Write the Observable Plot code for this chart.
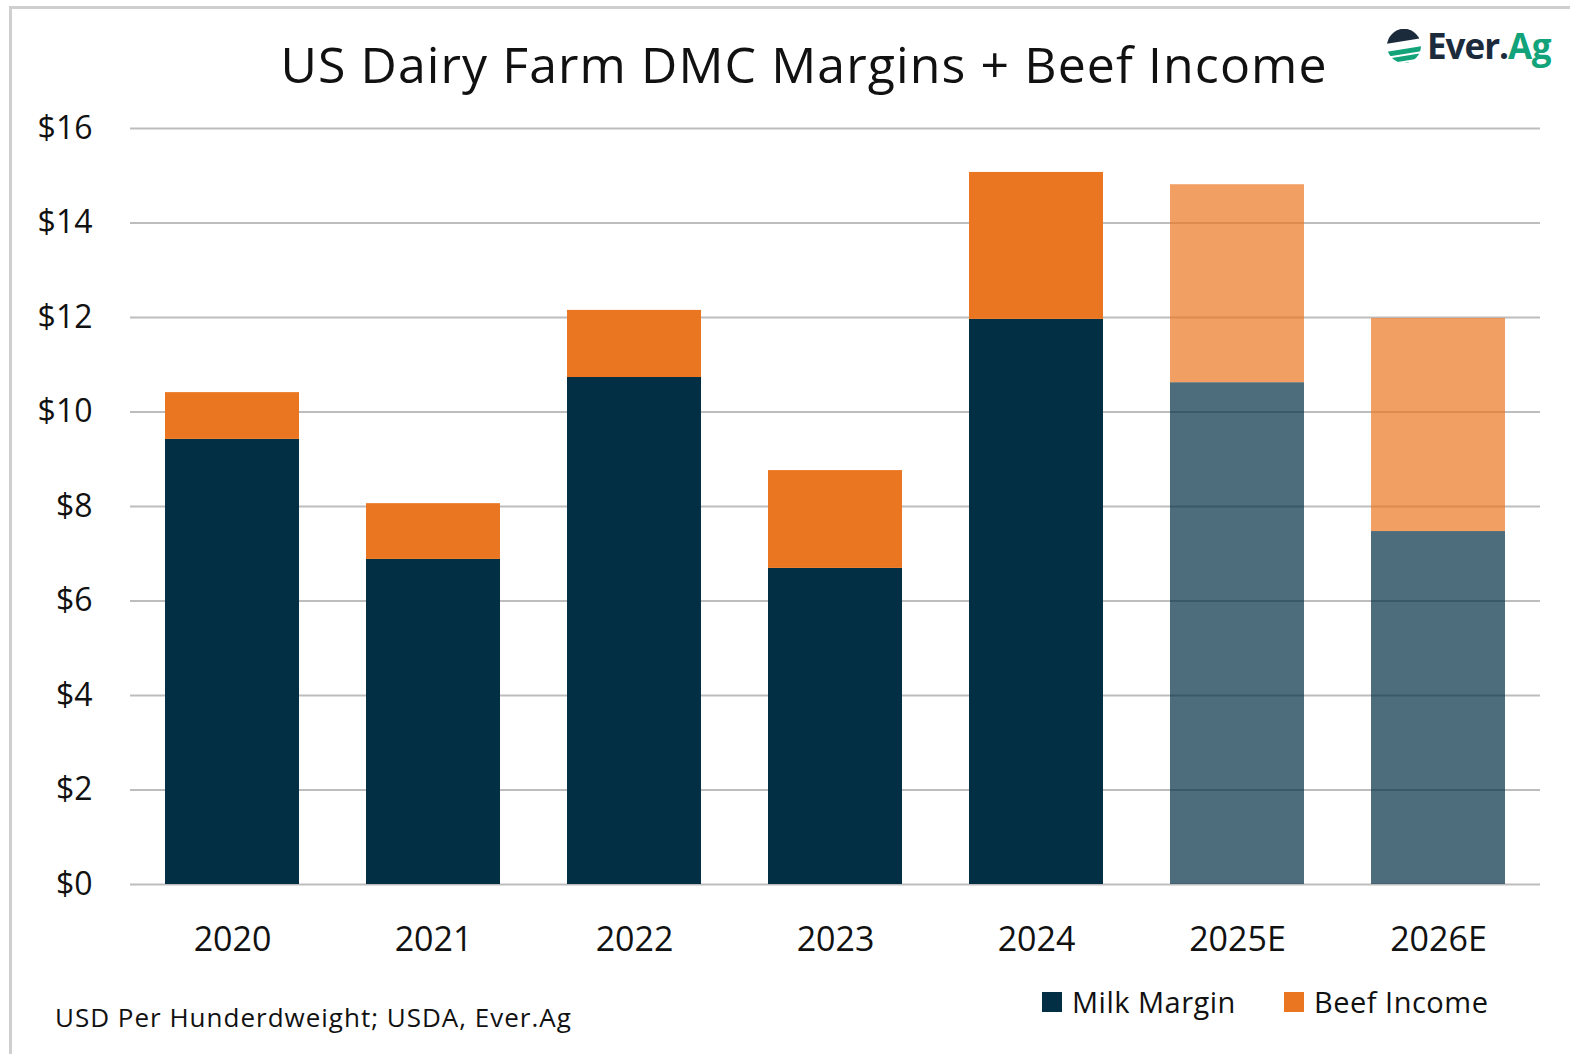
<!DOCTYPE html>
<html>
<head>
<meta charset="utf-8">
<script src="https://cdn.jsdelivr.net/npm/d3@7"></script>
<script src="https://cdn.jsdelivr.net/npm/@observablehq/plot@0.6"></script>
<style>
  html, body { margin: 0; padding: 0; background: #fff; }
  body { width: 1570px; height: 1054px; position: relative; overflow: hidden; font-family: "Open Sans", "Noto Sans", sans-serif; color: #111; }
  #frame { position: absolute; left: 9px; top: 6px; width: 1570px; height: 1060px; border-top: 3px solid #cfcfcf; border-left: 3px solid #cfcfcf; box-sizing: border-box; }
  #title { position: absolute; left: 0; width: 1608px; top: 30px; text-align: center; font-size: 50px; font-weight: 400; letter-spacing: 1.1px; }
  #chart { position: absolute; left: 0; top: 100px; }
  #caption { position: absolute; left: 55px; top: 999px; font-size: 26px; letter-spacing: 1px; }
  .leg { position: absolute; top: 982px; font-size: 29px; letter-spacing: 0.5px; display: flex; align-items: center; }
  .sw { width: 20px; height: 20px; margin-right: 10px; display: inline-block; }
  #logo { position: absolute; left: 1385px; top: 22px; }
</style>
</head>
<body>
<div id="frame"></div>
<div id="title">US Dairy Farm DMC Margins + Beef Income</div>
<div id="logo">
  <svg width="180" height="52" viewBox="0 0 180 52">
    <defs><clipPath id="cc"><circle cx="19" cy="24" r="17"/></clipPath></defs>
    <g clip-path="url(#cc)">
      <rect x="0" y="0" width="40" height="50" fill="#fff"/>
      <rect x="0" y="0" width="40" height="9" fill="#1c2b3c"/>
      <path d="M0,10 A17,17 0 0 1 38,10 L38,16 L0,22 Z" fill="#1c2b3c"/>
      <path d="M0,30 L38,24 L38,29 L0,35 Z" fill="#12a37a"/>
      <path d="M0,37 L38,31 L38,36 L0,42 Z" fill="#12a37a"/>
      <path d="M0,44 L38,38 L38,50 L0,50 Z" fill="#12a37a"/>
    </g>
    <text x="42" y="37" font-family="Open Sans, sans-serif" font-weight="700" font-size="35" fill="#1c2b3c" letter-spacing="-1">Ever</text>
    <text x="114" y="37" font-family="Open Sans, sans-serif" font-weight="700" font-size="35" fill="#1c2b3c">.</text>
    <text x="123" y="37" font-family="Open Sans, sans-serif" font-weight="700" font-size="35" fill="#12a37a" letter-spacing="-0.5">Ag</text>
  </svg>
</div>
<div id="chart"></div>
<div class="leg" style="left:1042px;"><span class="sw" style="background:#032f45"></span>Milk Margin</div>
<div class="leg" style="left:1284px;"><span class="sw" style="background:#eb7621"></span>Beef Income</div>
<div id="caption">USD Per Hunderdweight; USDA, Ever.Ag</div>
<script>
const years = ["2020", "2021", "2022", "2023", "2024", "2025E", "2026E"];
const milkMargin = [9.42, 6.88, 10.73, 6.69, 11.96, 10.62, 7.47];
const beefIncome = [0.99, 1.18, 1.42, 2.07, 3.11, 4.19, 4.51];
const isEstimate = [false, false, false, false, false, true, true];
const seriesNames = ["Milk Margin", "Beef Income"];
const seriesColors = ["#032f45", "#eb7621"];
const yTicks = [0, 2, 4, 6, 8, 10, 12, 14, 16];

const rows = [];
years.forEach((y, i) => rows.push({year: y, series: seriesNames[0], value: milkMargin[i], op: isEstimate[i] ? 0.7 : 1}));
years.forEach((y, i) => rows.push({year: y, series: seriesNames[1], value: beefIncome[i], op: isEstimate[i] ? 0.7 : 1}));

const chart = Plot.plot({
  width: 1570,
  height: 870,
  marginLeft: 130,
  marginRight: 30,
  marginTop: 28,
  marginBottom: 86,
  style: {fontFamily: "'Open Sans', 'Noto Sans', sans-serif", fontSize: "30px", color: "#111", background: "transparent"},
  x: {domain: years, label: null, paddingInner: 0.333, paddingOuter: 0.1667},
  y: {domain: [0, 16], ticks: yTicks, label: null},
  color: {domain: seriesNames, range: seriesColors},
  marks: [
    Plot.gridY(yTicks, {stroke: "#bdbdbd", strokeOpacity: 1, strokeWidth: 2}),
    Plot.barY(rows, {x: "year", y: "value", fill: "series", fillOpacity: "op", order: seriesNames, inset: 0}),
    Plot.axisY({ticks: yTicks, tickSize: 0, tickPadding: 38, tickFormat: d => "$" + d, label: null, fontSize: 32}),
    Plot.axisX({tickSize: 0, tickPadding: 42, label: null, fontSize: 34, style: {letterSpacing: "1.5px"}})
  ]
});
document.getElementById("chart").appendChild(chart);
</script>
</body>
</html>
